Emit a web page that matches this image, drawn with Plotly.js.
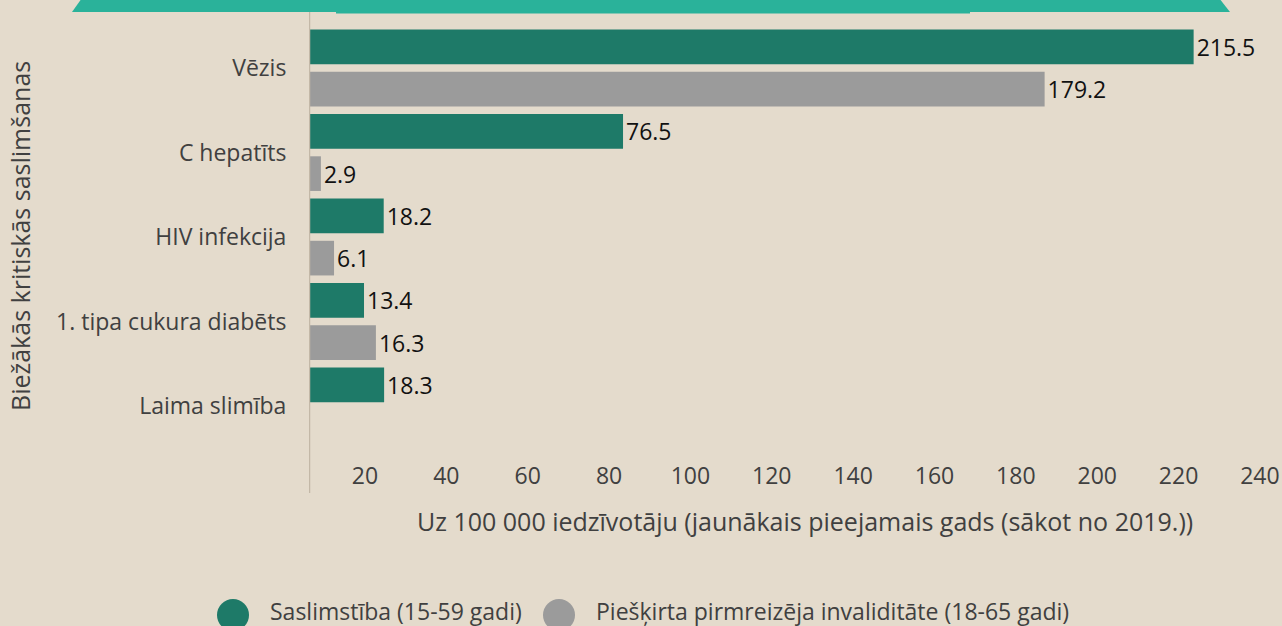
<!DOCTYPE html>
<html>
<head>
<meta charset="utf-8">
<script src="https://cdn.plot.ly/plotly-3.0.1.min.js"></script>
<style>html,body{margin:0;padding:0;background:#e4dbcc;}#chart{width:1282px;height:626px;}</style>
</head>
<body>
<div id="chart"></div>
<script>
// ---- data ----
const categories = ["Vēzis", "C hepatīts", "HIV infekcija", "1. tipa cukura diabēts", "Laima slimība"];
const incidence = [215.5, 76.5, 18.2, 13.4, 18.3];          // Saslimstība (15-59 gadi)
const disability = [179.2, 2.9, 6.1, 16.3, null];          // Piešķirta pirmreizēja invaliditāte (18-65 gadi)
const seriesNames = ["Saslimstība (15-59 gadi)", "Piešķirta pirmreizēja invaliditāte (18-65 gadi)"];
const tickValues = [20, 40, 60, 80, 100, 120, 140, 160, 180, 200, 220, 240];
const xTitle = "Uz 100 000 iedzīvotāju (jaunākais pieejamais gads (sākot no 2019.))";
const yTitle = "Biežākās kritiskās saslimšanas";

// ---- style ----
const W = 1282, H = 626;
const L = 309, R = 0, T = 12, B = 455;          // plot area in px
const BG = "#e4dbcc", GREEN = "#1e7a68", GRAY = "#9b9b9b", TEAL = "#2ab29a";
const FONT = "Open Sans, sans-serif", TXT = "#404040";
const FS = 23, FT = 25;

const pw = W - L - R, ph = B - T;
const px = p => (p - L) / pw;
const py = p => (B - p) / ph;

const traces = [
  {type: "bar", orientation: "h", name: seriesNames[0], y: categories, x: incidence,
   marker: {color: GREEN}, text: incidence.map(v => v == null ? "" : String(v)),
   textposition: "outside", cliponaxis: false, constraintext: "none",
   textfont: {family: FONT, size: FS, color: "#111"}, hoverinfo: "x", showlegend: false},
  {type: "bar", orientation: "h", name: seriesNames[1], y: categories, x: disability,
   marker: {color: GRAY}, text: disability.map(v => v == null ? "" : String(v)),
   textposition: "outside", cliponaxis: false, constraintext: "none",
   textfont: {family: FONT, size: FS, color: "#111"}, hoverinfo: "x", showlegend: false},
  {type: "scatter", x: [], y: [], xaxis: "x2", yaxis: "y", showlegend: false, hoverinfo: "skip"}
];

const pitch = 84.5, c0 = 68;   // category pitch / first centre in px
const layout = {
  width: W, height: H,
  paper_bgcolor: BG, plot_bgcolor: BG,
  margin: {l: L, r: R, t: T, b: H - B, pad: 0},
  barmode: "group", bargap: 0, bargroupgap: 0.18,
  showlegend: false,
  font: {family: FONT, size: FS, color: TXT},
  xaxis: {range: [0, pw / 4.105], showticklabels: false, showgrid: false, zeroline: false, showline: false, fixedrange: true},
  xaxis2: {overlaying: "x", anchor: "y", side: "bottom",
           range: [(L - 283.6) / 4.068, (W - 283.6) / 4.068],
           tickvals: tickValues, showgrid: false, zeroline: false, showline: false,
           ticks: "", ticklabelstandoff: 5, tickfont: {family: FONT, size: FS, color: TXT}},
  yaxis: {type: "category", categoryarray: categories,
          range: [(B - c0) / pitch, (T - c0) / pitch],
          showgrid: false, zeroline: false, showline: false,
          ticks: "outside", ticklen: 17, tickcolor: "rgba(0,0,0,0)",
          tickfont: {family: FONT, size: FS, color: TXT}},
  shapes: [
    {type: "line", xref: "x", x0: 0, x1: 0, yref: "paper", y0: py(493), y1: py(12),
     line: {color: "#c3b8a7", width: 2.5}},
    {type: "path", xref: "paper", yref: "paper", layer: "above",
     path: `M ${px(82)} ${py(-2)} L ${px(1219)} ${py(-2)} L ${px(1230)} ${py(12)} L ${px(72)} ${py(12)} Z`,
     fillcolor: TEAL, line: {width: 0}},
    {type: "rect", xref: "paper", yref: "paper", layer: "above",
     x0: px(336), x1: px(970), y0: py(13.5), y1: py(11), fillcolor: TEAL, line: {width: 0}},
    {type: "circle", xref: "paper", yref: "paper", x0: px(217), x1: px(249), y0: py(631), y1: py(599),
     fillcolor: GREEN, line: {width: 0}},
    {type: "circle", xref: "paper", yref: "paper", x0: px(543), x1: px(575), y0: py(631), y1: py(599),
     fillcolor: GRAY, line: {width: 0}}
  ],
  annotations: [
    {text: xTitle, xref: "paper", yref: "paper", x: px(805), y: py(521), xanchor: "center", yanchor: "middle",
     showarrow: false, font: {family: FONT, size: FT, color: TXT}},
    {text: yTitle, xref: "paper", yref: "paper", x: px(20), y: py(236), xanchor: "center", yanchor: "middle",
     textangle: -90, showarrow: false, font: {family: FONT, size: FT, color: TXT}},
    {text: seriesNames[0], xref: "paper", yref: "paper", x: px(268), y: py(611), xanchor: "left", yanchor: "middle",
     showarrow: false, font: {family: FONT, size: FS, color: TXT}},
    {text: seriesNames[1], xref: "paper", yref: "paper", x: px(594), y: py(611), xanchor: "left", yanchor: "middle",
     showarrow: false, font: {family: FONT, size: FS, color: TXT}}
  ]
};

Plotly.newPlot("chart", traces, layout, {displayModeBar: false, staticPlot: true});
</script>
</body>
</html>
